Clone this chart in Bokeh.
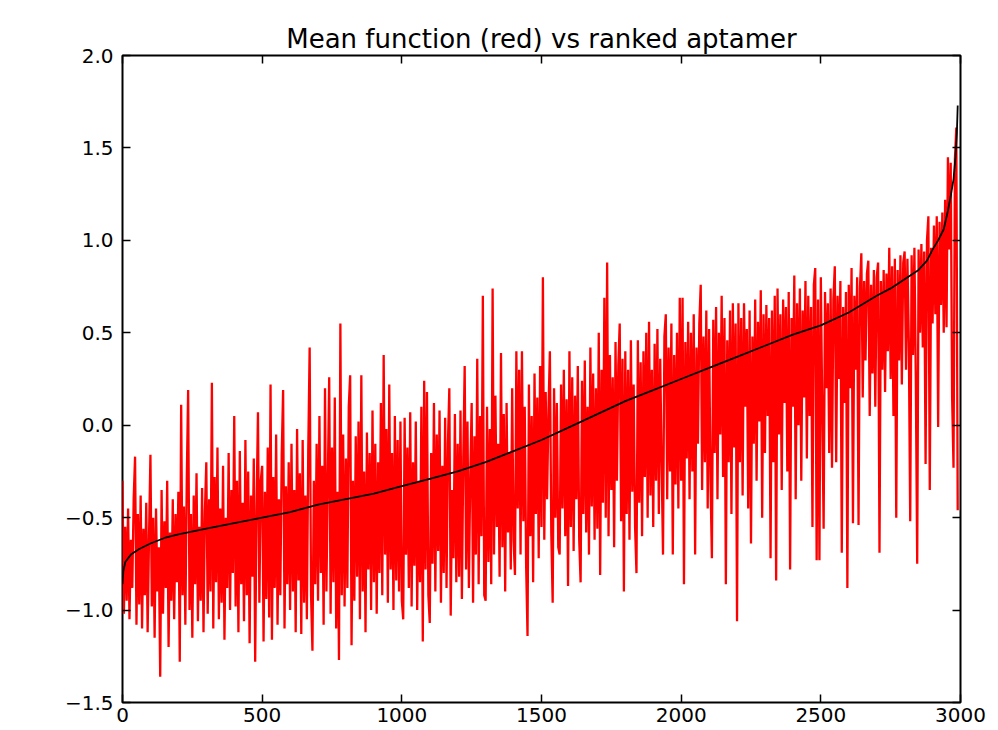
from bokeh.plotting import figure
from bokeh.models import FixedTicker, LinearAxis, Range1d, ColumnDataSource
from bokeh.embed import file_html
from bokeh.resources import INLINE

TITLE = "Mean function (red) vs ranked aptamer"

X_TICKS = [0, 500, 1000, 1500, 2000, 2500, 3000]
X_TICK_LABELS = ["0", "500", "1000", "1500", "2000", "2500", "3000"]
Y_TICKS = [-1.5, -1.0, -0.5, 0.0, 0.5, 1.0, 1.5, 2.0]
Y_TICK_LABELS = ["\u22121.5", "\u22121.0", "\u22120.5", "0.0", "0.5", "1.0", "1.5", "2.0"]

RED_STEP = 5
RED_VALUES = [
    -0.30, -1.02, -0.55, -0.95, -0.45, -1.05, -0.62, -0.88, -0.40, -0.17, -1.08, -0.48, -0.97, -0.38, -1.10, -0.56, -0.92, -0.42, -1.12, -0.60,
    -0.16, -0.98, -0.50, -1.15, -0.45, -0.90, -0.66, -1.36, -0.35, -1.02, -0.52, -0.88, -0.30, -1.20, -0.58, -0.95, -0.40, -1.05, -0.48, -0.85,
    -0.36, -1.28, 0.11, -0.92, -0.44, -1.08, -0.30, 0.19, -1.00, -0.48, -1.15, -0.38, -0.86, -0.26, -1.06, -0.55, -0.95, -0.34, -1.12, -0.47,
    -0.20, -1.02, -0.40, -0.90, 0.23, -1.10, -0.28, -0.85, -0.12, -1.05, -0.45, -0.96, -0.22, -1.16, -0.50, -0.88, -0.15, -1.00, -0.35, -0.80,
    0.05, -0.98, -0.30, -1.12, -0.14, -0.86, -0.42, -1.06, -0.08, -0.92, -0.25, -1.18, -0.38, -0.82, -0.18, -1.28, -0.44, 0.07, -0.96, -0.30,
    -0.22, -1.17, -0.36, -0.94, -0.12, -1.04, 0.22, -1.16, -0.28, -0.88, -0.05, -1.08, -0.40, -0.92, -0.16, 0.19, -1.10, -0.33, -0.86, -0.20,
    -1.00, -0.10, -0.90, -0.35, -1.12, -0.02, -0.84, -0.26, -1.13, -0.08, -0.96, -0.38, -1.05, -0.14, 0.42, -0.92, -1.22, -0.30, -0.86, -0.10,
    -0.95, 0.05, -0.80, -0.22, -1.08, 0.20, -0.90, -0.30, 0.26, -1.02, -0.12, -0.85, 0.15, -1.10, -0.36, -1.27, 0.55, -0.92, -0.05, -0.98,
    -0.18, -0.88, 0.10, 0.27, -1.19, -0.30, -0.95, -0.06, -0.82, 0.02, -1.05, 0.27, -0.90, -0.25, -1.12, -0.04, -0.78, -0.15, -1.00, 0.08,
    -0.85, -0.10, -1.02, -0.20, -0.80, 0.12, -0.92, 0.38, -0.70, -0.02, -0.96, 0.22, -0.78, -0.15, -1.00, 0.05, -0.84, -0.08, -0.90, 0.02,
    -0.95, -1.05, 0.04, -0.70, -0.12, -0.88, 0.07, -0.98, -0.20, -0.76, 0.02, -1.00, -0.30, -0.85, 0.10, -1.17, 0.24, -0.78, 0.18, -0.92,
    -1.07, -0.15, -0.75, 0.12, -0.90, -0.05, -0.68, 0.08, -0.96, -0.22, -0.80, 0.04, -0.88, -0.10, 0.20, -1.03, -0.35, -0.72, 0.06, -0.85,
    -0.10, -0.82, 0.08, -0.94, -0.18, 0.32, -0.78, 0.02, -0.88, -0.28, 0.12, -0.96, -0.06, -0.70, 0.36, -0.86, 0.05, -0.60, 0.70, -0.92,
    -0.95, 0.10, -0.74, -0.02, -0.86, 0.74, -0.70, 0.16, -0.55, -0.10, -0.82, 0.39, -0.66, 0.06, -0.90, 0.12, -0.58, -0.15, -0.78, 0.20,
    -0.62, -0.81, 0.40, -0.45, 0.30, -0.70, 0.40, -0.52, 0.10, -0.76, -1.14, 0.22, -0.60, 0.05, -0.85, 0.28, -0.48, 0.15, -0.72, 0.32,
    -0.55, 0.80, -0.62, 0.18, -0.40, 0.08, 0.40, -0.58, -0.96, 0.20, -0.50, 0.12, -0.66, -0.70, 0.22, -0.45, 0.30, -0.60, 0.14, -0.87,
    0.40, -0.55, 0.26, -0.68, 0.16, -0.40, 0.32, -0.62, -0.85, 0.24, -0.48, 0.35, -0.58, 0.10, -0.70, 0.42, -0.44, 0.28, -0.62, 0.20,
    -0.56, 0.50, -0.81, 0.30, -0.42, 0.69, -0.50, 0.88, -0.60, 0.38, -0.35, 0.26, -0.66, 0.45, -0.30, 0.32, 0.55, -0.52, 0.36, -0.90,
    0.40, -0.48, 0.30, -0.62, 0.46, -0.36, 0.22, -0.55, -0.80, 0.46, -0.42, 0.34, -0.60, 0.40, -0.28, 0.50, -0.50, 0.56, -0.38, 0.30,
    -0.55, 0.44, -0.30, 0.52, -0.48, 0.36, -0.20, -0.70, 0.48, 0.60, -0.40, 0.42, -0.25, 0.55, -0.70, 0.38, -0.32, 0.50, -0.45, 0.69,
    -0.30, 0.69, -0.86, 0.45, -0.18, 0.56, -0.40, 0.50, -0.25, 0.60, -0.70, 0.42, -0.10, 0.55, 0.76, -0.35, 0.48, -0.20, 0.62, -0.45,
    0.52, -0.30, -0.72, 0.57, -0.15, 0.64, -0.40, 0.50, -0.05, 0.70, -0.28, 0.58, -0.86, 0.46, -0.20, 0.62, -0.48, 0.66, -0.12, 0.55,
    -1.06, 0.66, -0.20, 0.58, -0.38, 0.66, 0.10, 0.52, -0.45, 0.62, -0.64, 0.48, -0.10, 0.68, -0.30, 0.56, 0.02, 0.73, -0.50, 0.60,
    -0.15, 0.65, 0.05, 0.58, -0.72, 0.62, -0.20, 0.70, -0.84, 0.74, -0.05, 0.60, -0.35, 0.68, 0.12, 0.64, -0.25, 0.72, -0.78, 0.58,
    0.10, 0.81, -0.40, 0.66, 0.00, 0.74, -0.30, 0.62, 0.15, 0.78, -0.18, 0.70, 0.05, 0.64, -0.55, 0.76, 0.85, -0.73, 0.68, -0.73,
    0.80, 0.10, -0.56, 0.72, 0.20, 0.66, -0.15, 0.74, -0.23, 0.68, 0.86, -0.20, 0.70, 0.25, 0.78, -0.69, 0.64, 0.12, 0.72, -0.88,
    0.76, 0.20, 0.85, -0.53, 0.70, 0.30, 0.80, -0.54, 0.74, 0.93, 0.15, 0.78, 0.35, 0.82, 0.89, 0.05, 0.76, 0.28, 0.84, 0.10,
    0.80, 0.88, -0.69, 0.78, 0.30, 0.84, 0.18, 0.82, 0.40, 0.96, 0.25, 0.86, 0.05, 0.90, -0.50, 0.84, 0.35, 0.92, 0.22, 0.88,
    0.94, 0.30, 0.90, 0.45, -0.52, 0.92, 0.38, 0.96, 0.25, -0.75, 0.95, 0.50, 0.98, 0.42, 0.94, -0.21, 1.00, 1.13, -0.35, 0.96,
    0.55, 1.08, 0.60, 1.13, -0.01, 1.10, 0.65, 1.15, 0.50, 1.22, 0.53, 1.45, 0.95, 1.42, 0.15, -0.23, 1.44, 1.61, -0.46,
]
RED_RANK = [i * RED_STEP for i in range(len(RED_VALUES))]

# Black series: mean function (sorted)
MEAN_RANK = [0, 3, 10, 30, 60, 100, 150, 200, 300, 400, 500, 600, 700, 800, 900,
             1000, 1100, 1200, 1300, 1400, 1500, 1600, 1700, 1800, 1900, 2000, 2100,
             2200, 2300, 2400, 2500, 2600, 2700, 2750, 2800, 2850, 2880, 2900, 2920,
             2940, 2955, 2965, 2975, 2982, 2987, 2990]
MEAN_VALUES = [-0.86, -0.79, -0.74, -0.70, -0.67, -0.64, -0.61, -0.59, -0.56, -0.53,
               -0.50, -0.47, -0.43, -0.40, -0.37, -0.33, -0.29, -0.25, -0.20, -0.14,
               -0.08, -0.01, 0.06, 0.13, 0.19, 0.25, 0.31, 0.37, 0.43, 0.49, 0.54,
               0.61, 0.70, 0.74, 0.79, 0.84, 0.89, 0.95, 1.00, 1.06, 1.16, 1.24,
               1.33, 1.45, 1.58, 1.73]

FONT = "DejaVu Sans"

p = figure(width=998, height=730, output_backend="svg", toolbar_location=None,
           x_range=Range1d(0, 3000), y_range=Range1d(-1.5, 2.0),
           x_axis_location=None, y_axis_location=None,
           min_border_left=122, min_border_right=38, min_border_top=55,
           min_border_bottom=28, title=TITLE)

p.background_fill_color = "white"
p.border_fill_color = "white"
p.outline_line_color = "black"
p.outline_line_width = 2
p.xgrid.visible = False
p.ygrid.visible = False

p.title.text_font = FONT
p.title.text_font_size = "26px"
p.title.text_font_style = "normal"
p.title.text_color = "black"
p.title.align = "center"
p.title.standoff = 4

xt = FixedTicker(ticks=X_TICKS)
yt = FixedTicker(ticks=Y_TICKS)


def style_axis(ax, labels, show):
    ax.axis_line_color = None
    ax.major_tick_in = 8
    ax.major_tick_out = 0
    ax.major_tick_line_color = "black"
    ax.major_tick_line_width = 1.5
    ax.minor_tick_line_color = None
    if show:
        ax.major_label_text_font = FONT
        ax.major_label_text_font_size = "20px"
        ax.major_label_text_color = "black"
        ax.major_label_overrides = labels
    else:
        ax.major_label_text_font_size = "0px"
        ax.major_label_standoff = 0
        ax.major_label_overrides = {k: "" for k in labels}


bottom = LinearAxis(ticker=xt)
style_axis(bottom, {t: l for t, l in zip(X_TICKS, X_TICK_LABELS)}, True)
bottom.major_label_standoff = 5
p.add_layout(bottom, "below")

left = LinearAxis(ticker=yt)
style_axis(left, {t: l for t, l in zip(Y_TICKS, Y_TICK_LABELS)}, True)
left.major_label_standoff = 9
p.add_layout(left, "left")

top = LinearAxis(ticker=xt)
style_axis(top, {t: l for t, l in zip(X_TICKS, X_TICK_LABELS)}, False)
p.add_layout(top, "above")

right = LinearAxis(ticker=yt)
style_axis(right, {t: l for t, l in zip(Y_TICKS, Y_TICK_LABELS)}, False)
p.add_layout(right, "right")

red_src = ColumnDataSource(dict(x=RED_RANK, y=RED_VALUES))
mean_src = ColumnDataSource(dict(x=MEAN_RANK, y=MEAN_VALUES))

p.line("x", "y", source=red_src, line_color="#ff0000", line_width=2.3)
p.line("x", "y", source=mean_src, line_color="black", line_width=1.8)

open("out.html", "w").write(file_html(p, INLINE))
